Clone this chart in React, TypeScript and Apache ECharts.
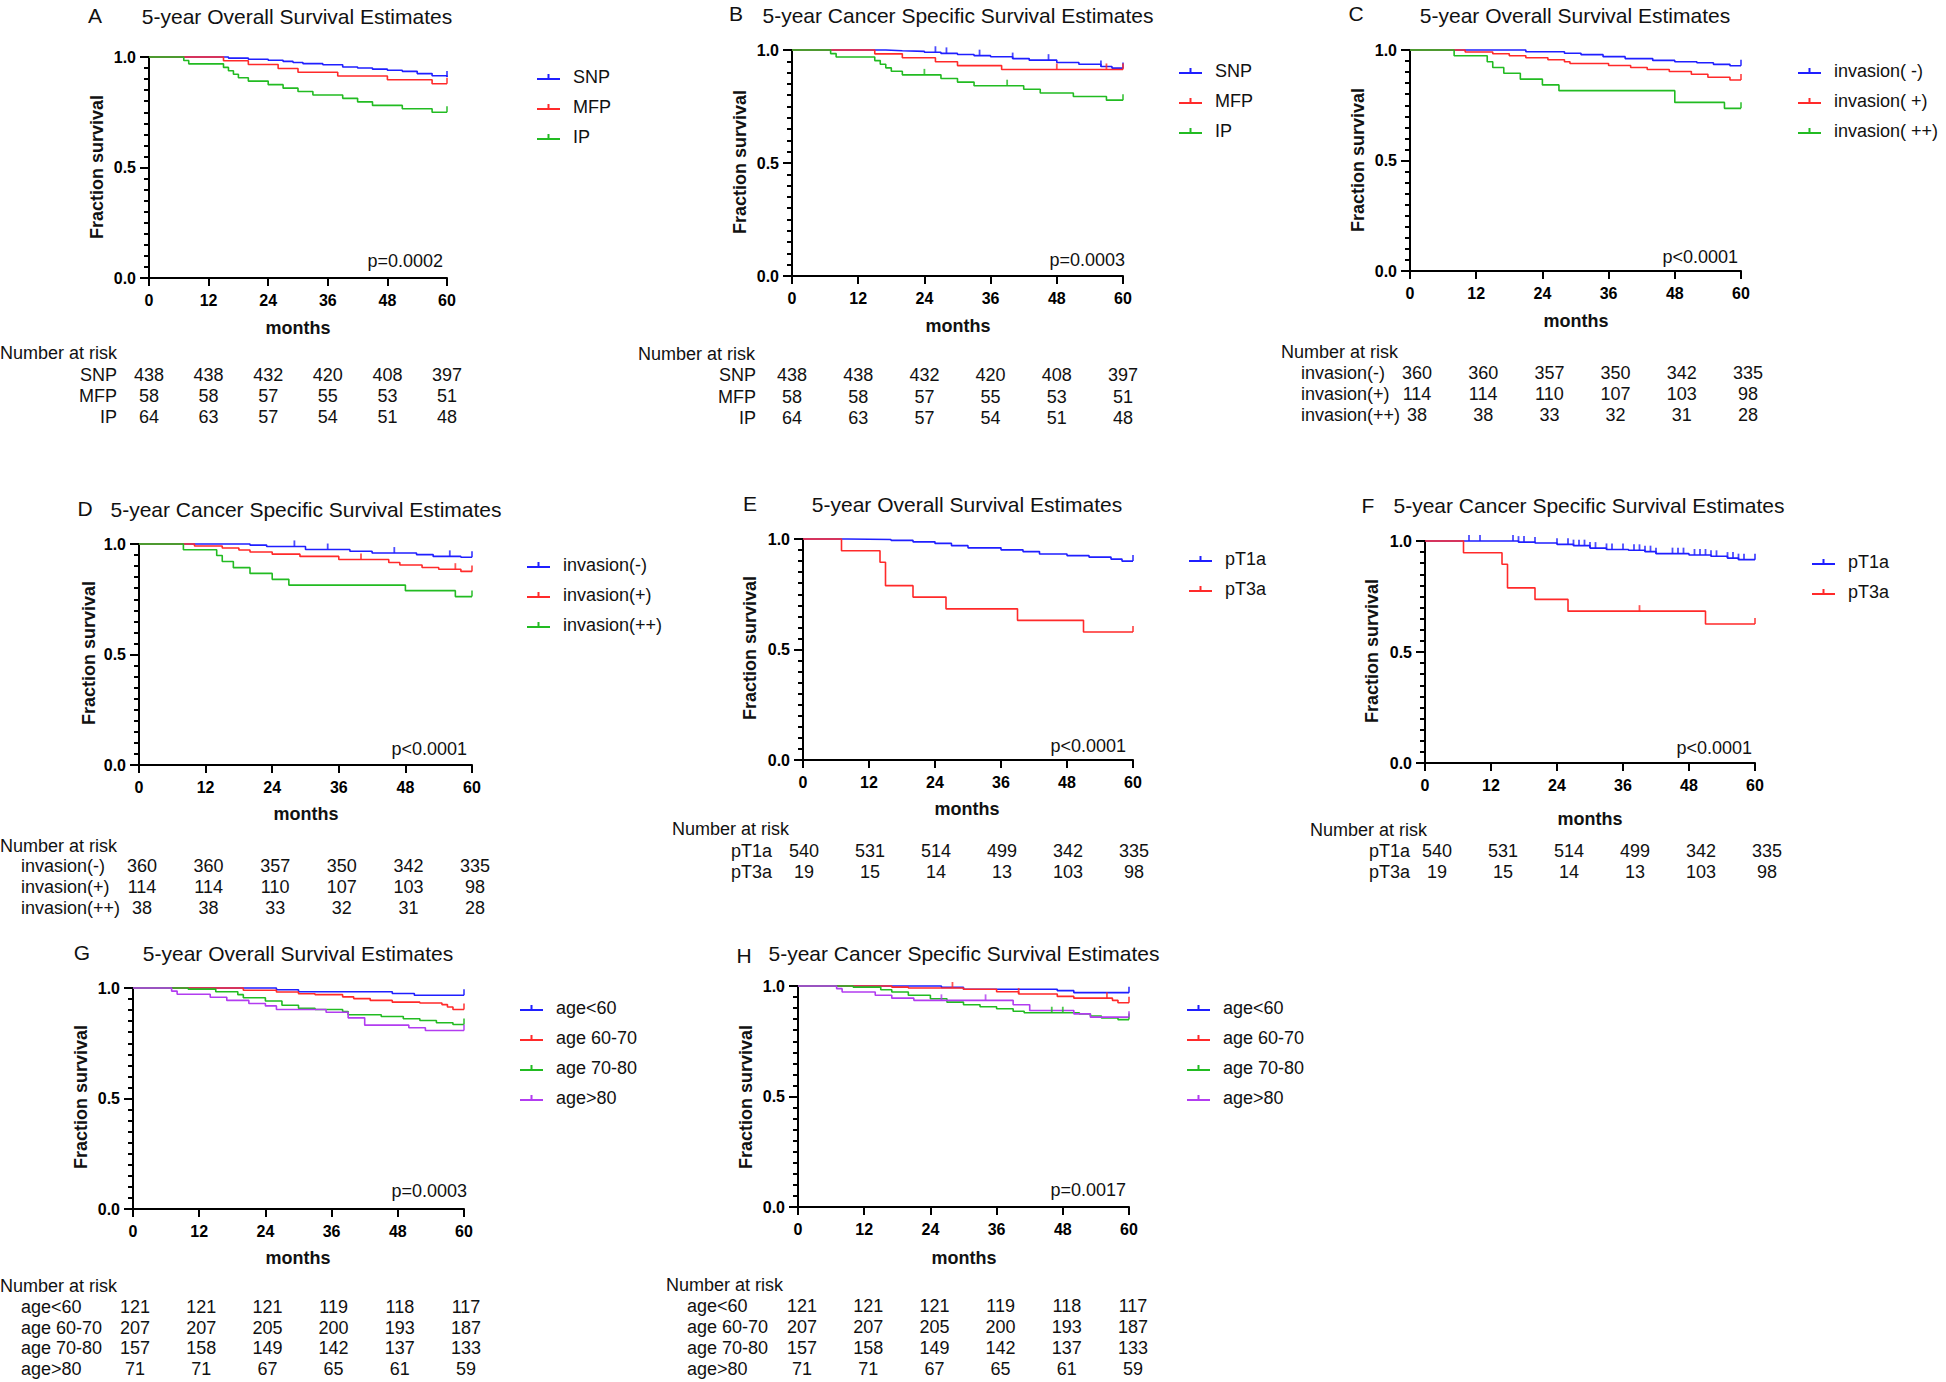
import React, { useEffect, useRef } from 'react';
import * as echarts from 'echarts';

const FONT = '"Liberation Sans", Arial, Helvetica, sans-serif';
const BLUE = '#1F1FFF';
const RED = '#FF2A2A';
const GREEN = '#22BB22';
const PURPLE = '#B23CF0';

// time points of the "number at risk" tables (months)
const riskMonths = [0, 12, 24, 36, 48, 60];

// ---------- Panel A : 5-year OS by SNP / MFP / IP ----------
const A_SNP = [[0, 1], [14, 1], [16, 0.995], [20, 0.99], [24, 0.985], [27, 0.98], [29, 0.975], [31, 0.97], [35, 0.965], [39, 0.955], [42, 0.95], [45, 0.945], [48, 0.94], [51, 0.935], [54, 0.925], [57, 0.915], [60, 0.91]];
const A_MFP = [[0, 1], [15, 0.983], [20, 0.966], [26, 0.948], [30, 0.931], [38, 0.914], [48, 0.897], [57, 0.879], [60, 0.879]];
const A_IP = [[0, 1], [7, 0.984], [8, 0.969], [15, 0.953], [16, 0.938], [17, 0.922], [18, 0.906], [20, 0.891], [24, 0.875], [27, 0.859], [30, 0.844], [33, 0.828], [39, 0.813], [42, 0.797], [45, 0.781], [51, 0.766], [57, 0.75], [60, 0.75]];
const A_SNP_cens = [60];
const A_MFP_cens = [60];
const A_IP_cens = [60];

// ---------- Panel B : 5-year CSS by SNP / MFP / IP ----------
const B_SNP = [[0, 1], [14, 1], [17, 0.997], [20, 0.994], [24, 0.99], [27, 0.985], [30, 0.98], [33, 0.975], [36, 0.97], [40, 0.962], [43, 0.955], [48, 0.945], [52, 0.937], [56, 0.927], [58, 0.92], [60, 0.918]];
const B_MFP = [[0, 1], [15, 0.983], [20, 0.966], [26, 0.948], [30, 0.931], [38, 0.914], [60, 0.914]];
const B_IP = [[0, 1], [7, 0.984], [8, 0.969], [15, 0.953], [16, 0.937], [17, 0.921], [18, 0.906], [20, 0.89], [27, 0.874], [30, 0.858], [33, 0.842], [42, 0.826], [45, 0.81], [51, 0.794], [57, 0.778], [60, 0.778]];
const B_SNP_cens = [26, 28, 34, 40, 46.5, 56, 60];
const B_MFP_cens = [48, 57, 60];
const B_IP_cens = [24, 39, 60];

// ---------- Panel C : 5-year OS by invasion ----------
const C_NEG = [[0, 1], [19, 1], [21, 0.992], [28, 0.985], [31, 0.979], [35, 0.97], [39, 0.961], [44, 0.953], [48, 0.947], [52, 0.942], [55, 0.935], [58, 0.929], [60, 0.929]];
const C_POS = [[0, 1], [10, 0.991], [15, 0.983], [18, 0.974], [21, 0.965], [25, 0.956], [28, 0.947], [29, 0.939], [36, 0.93], [40, 0.921], [43, 0.912], [47, 0.903], [51, 0.89], [54, 0.877], [58, 0.864], [60, 0.864]];
const C_PP = [[0, 1], [8, 0.974], [14, 0.947], [15, 0.921], [17, 0.895], [20, 0.868], [24, 0.842], [27, 0.816], [48, 0.763], [57, 0.736], [60, 0.736]];
const C_NEG_cens = [60];
const C_POS_cens = [60];
const C_PP_cens = [60];

// ---------- Panel D : 5-year CSS by invasion ----------
const D_NEG = [[0, 1], [17, 1], [20, 0.995], [23, 0.989], [30, 0.975], [38, 0.967], [42, 0.959], [50, 0.952], [53, 0.944], [58, 0.94], [60, 0.94]];
const D_POS = [[0, 1], [10, 0.991], [15, 0.982], [18, 0.973], [20, 0.964], [24, 0.954], [29, 0.944], [36, 0.93], [45, 0.916], [47, 0.905], [51, 0.894], [54, 0.886], [58, 0.876], [60, 0.876]];
const D_PP = [[0, 1], [8, 0.974], [14, 0.948], [15, 0.921], [17, 0.893], [20, 0.867], [24, 0.84], [27, 0.814], [48, 0.789], [57, 0.762], [60, 0.762]];
const D_NEG_cens = [28, 34, 46, 56, 60];
const D_POS_cens = [40, 57, 60];
const D_PP_cens = [60];

// ---------- Panel E : 5-year OS by pT stage ----------
const E_T1A = [[0, 1], [8, 0.998], [16, 0.994], [20, 0.987], [24, 0.98], [27, 0.97], [30, 0.96], [36, 0.951], [40, 0.943], [43, 0.932], [48, 0.925], [52, 0.918], [56, 0.909], [58, 0.9], [60, 0.9]];
const E_T3A = [[0, 1], [7, 0.947], [14, 0.895], [15, 0.789], [20, 0.737], [26, 0.684], [39, 0.632], [51, 0.579], [60, 0.579]];
const E_T1A_cens = [60];
const E_T3A_cens = [60];

// ---------- Panel F : 5-year CSS by pT stage ----------
const F_T1A = [[0, 1], [16, 1], [17, 0.995], [20, 0.991], [24, 0.985], [27, 0.979], [30, 0.968], [33, 0.962], [37, 0.958], [40, 0.952], [42, 0.943], [48, 0.937], [52, 0.931], [55, 0.923], [57, 0.916], [60, 0.915]];
const F_T3A = [[0, 1], [7, 0.947], [14, 0.895], [15, 0.789], [20, 0.737], [26, 0.684], [51, 0.626], [60, 0.626]];
const F_T1A_cens = [8, 10, 16, 17, 18, 20, 24, 26, 27, 28, 29, 30, 31, 33, 34, 36, 38, 39, 40, 41, 42, 45, 46, 47, 49, 50, 51, 52, 53, 55, 56, 57, 58, 60];
const F_T3A_cens = [39, 60];

// ---------- Panel G : 5-year OS by age ----------
const G_LT60 = [[0, 1], [26, 0.992], [30, 0.983], [47, 0.975], [51, 0.967], [60, 0.967]];
const G_6070 = [[0, 1], [17, 1], [20, 0.99], [26, 0.982], [30, 0.974], [33, 0.97], [38, 0.96], [40, 0.952], [43, 0.944], [47, 0.936], [52, 0.932], [56, 0.925], [57, 0.914], [58, 0.903], [60, 0.903]];
const G_7080 = [[0, 1], [10, 0.995], [15, 0.983], [19, 0.97], [20, 0.956], [24, 0.941], [27, 0.922], [30, 0.908], [33, 0.903], [38, 0.894], [39, 0.879], [45, 0.871], [49, 0.861], [52, 0.853], [55, 0.843], [58, 0.835], [60, 0.835]];
const G_GT80 = [[0, 1], [7, 0.986], [8, 0.972], [14, 0.958], [17, 0.944], [21, 0.93], [24, 0.919], [26, 0.903], [35, 0.89], [39, 0.865], [42, 0.832], [50, 0.82], [53, 0.808], [60, 0.808]];
const G_LT60_cens = [60];
const G_6070_cens = [60];
const G_7080_cens = [60];
const G_GT80_cens = [60];

// ---------- Panel H : 5-year CSS by age ----------
const H_LT60 = [[0, 1], [26, 0.994], [30, 0.985], [47, 0.979], [50, 0.97], [60, 0.97]];
const H_6070 = [[0, 1], [17, 0.995], [20, 0.991], [30, 0.985], [36, 0.974], [40, 0.964], [47, 0.953], [50, 0.945], [57, 0.935], [58, 0.924], [60, 0.924]];
const H_7080 = [[0, 1], [10, 0.995], [15, 0.983], [17, 0.973], [20, 0.958], [24, 0.942], [27, 0.927], [30, 0.915], [33, 0.906], [36, 0.897], [39, 0.886], [41, 0.879], [51, 0.873], [53, 0.864], [55, 0.855], [58, 0.848], [60, 0.848]];
const H_GT80 = [[0, 1], [7, 0.988], [8, 0.973], [14, 0.958], [17, 0.945], [21, 0.935], [39, 0.915], [42, 0.889], [50, 0.874], [53, 0.859], [60, 0.859]];
const H_LT60_cens = [60];
const H_6070_cens = [28, 40, 56, 60];
const H_7080_cens = [46, 48, 60];
const H_GT80_cens = [26, 34, 60];

// ---------- Number at risk tables ----------
const riskLabelsSite = ['SNP', 'MFP', 'IP'];
const riskSite = [[438, 438, 432, 420, 408, 397], [58, 58, 57, 55, 53, 51], [64, 63, 57, 54, 51, 48]];
const riskLabelsInv = ['invasion(-)', 'invasion(+)', 'invasion(++)'];
const riskInv = [[360, 360, 357, 350, 342, 335], [114, 114, 110, 107, 103, 98], [38, 38, 33, 32, 31, 28]];
const riskLabelsPT = ['pT1a', 'pT3a'];
const riskPT = [[540, 531, 514, 499, 342, 335], [19, 15, 14, 13, 103, 98]];
const riskLabelsAge = ['age<60', 'age 60-70', 'age 70-80', 'age>80'];
const riskAge = [[121, 121, 121, 119, 118, 117], [207, 207, 205, 200, 193, 187], [157, 158, 149, 142, 137, 133], [71, 71, 67, 65, 61, 59]];

const pValues = ['p=0.0002', 'p=0.0003', 'p<0.0001', 'p<0.0001', 'p<0.0001', 'p<0.0001', 'p=0.0003', 'p=0.0017'];
const OS = '5-year Overall Survival Estimates';
const CSS = '5-year Cancer Specific Survival Estimates';

type Curve = { name: string; color: string; pts: number[][]; cens: number[] };

const curvesByPanel: Curve[][] = [
  [{ name: 'SNP', color: BLUE, pts: A_SNP, cens: A_SNP_cens }, { name: 'MFP', color: RED, pts: A_MFP, cens: A_MFP_cens }, { name: 'IP', color: GREEN, pts: A_IP, cens: A_IP_cens }],
  [{ name: 'SNP', color: BLUE, pts: B_SNP, cens: B_SNP_cens }, { name: 'MFP', color: RED, pts: B_MFP, cens: B_MFP_cens }, { name: 'IP', color: GREEN, pts: B_IP, cens: B_IP_cens }],
  [{ name: 'invasion( -)', color: BLUE, pts: C_NEG, cens: C_NEG_cens }, { name: 'invasion( +)', color: RED, pts: C_POS, cens: C_POS_cens }, { name: 'invasion( ++)', color: GREEN, pts: C_PP, cens: C_PP_cens }],
  [{ name: 'invasion(-)', color: BLUE, pts: D_NEG, cens: D_NEG_cens }, { name: 'invasion(+)', color: RED, pts: D_POS, cens: D_POS_cens }, { name: 'invasion(++)', color: GREEN, pts: D_PP, cens: D_PP_cens }],
  [{ name: 'pT1a', color: BLUE, pts: E_T1A, cens: E_T1A_cens }, { name: 'pT3a', color: RED, pts: E_T3A, cens: E_T3A_cens }],
  [{ name: 'pT1a', color: BLUE, pts: F_T1A, cens: F_T1A_cens }, { name: 'pT3a', color: RED, pts: F_T3A, cens: F_T3A_cens }],
  [{ name: 'age<60', color: BLUE, pts: G_LT60, cens: G_LT60_cens }, { name: 'age 60-70', color: RED, pts: G_6070, cens: G_6070_cens }, { name: 'age 70-80', color: GREEN, pts: G_7080, cens: G_7080_cens }, { name: 'age>80', color: PURPLE, pts: G_GT80, cens: G_GT80_cens }],
  [{ name: 'age<60', color: BLUE, pts: H_LT60, cens: H_LT60_cens }, { name: 'age 60-70', color: RED, pts: H_6070, cens: H_6070_cens }, { name: 'age 70-80', color: GREEN, pts: H_7080, cens: H_7080_cens }, { name: 'age>80', color: PURPLE, pts: H_GT80, cens: H_GT80_cens }],
];

const riskByPanel = [
  { labels: riskLabelsSite, values: riskSite },
  { labels: riskLabelsSite, values: riskSite },
  { labels: riskLabelsInv, values: riskInv },
  { labels: riskLabelsInv, values: riskInv },
  { labels: riskLabelsPT, values: riskPT },
  { labels: riskLabelsPT, values: riskPT },
  { labels: riskLabelsAge, values: riskAge },
  { labels: riskLabelsAge, values: riskAge },
];

// ---------- layout (pixel positions) ----------
const layout = [
  { id: 'A', title: OS, grid: [149, 57, 298, 221], letter: [95, 15], titlePos: [297, 16], legend: [532, 72], pPos: [443, 261], months: [298, 328], yname: [97, 167], header: [0, 353], labelAlign: 'right', labelX: 117, rowY: [375, 396, 417], valOffset: 0 },
  { id: 'B', title: CSS, grid: [792, 50, 331, 226], letter: [736, 13], titlePos: [958, 15], legend: [1174, 66], pPos: [1125, 260], months: [958, 326], yname: [740, 162], header: [638, 354], labelAlign: 'right', labelX: 756, rowY: [375, 397, 418], valOffset: 0 },
  { id: 'C', title: OS, grid: [1410, 50, 331, 221], letter: [1356, 13], titlePos: [1575, 15], legend: [1793, 66], pPos: [1738, 257], months: [1576, 321], yname: [1358, 160], header: [1281, 352], labelAlign: 'left', labelX: 1301, rowY: [373, 394, 415], valOffset: 7 },
  { id: 'D', title: CSS, grid: [139, 544, 333, 221], letter: [85, 508], titlePos: [306, 509], legend: [522, 560], pPos: [467, 749], months: [306, 814], yname: [89, 653], header: [0, 846], labelAlign: 'left', labelX: 21, rowY: [866, 887, 908], valOffset: 3 },
  { id: 'E', title: OS, grid: [803, 539, 330, 221], letter: [750, 503], titlePos: [967, 504], legend: [1184, 554], pPos: [1126, 746], months: [967, 809], yname: [750, 648], header: [672, 829], labelAlign: 'right', labelX: 772, rowY: [851, 872], valOffset: 1 },
  { id: 'F', title: CSS, grid: [1425, 541, 330, 222], letter: [1368, 505], titlePos: [1589, 505], legend: [1807, 557], pPos: [1752, 748], months: [1590, 819], yname: [1372, 651], header: [1310, 830], labelAlign: 'right', labelX: 1410, rowY: [851, 872], valOffset: 12 },
  { id: 'G', title: OS, grid: [133, 988, 331, 221], letter: [82, 952], titlePos: [298, 953], legend: [515, 1003], pPos: [467, 1191], months: [298, 1258], yname: [81, 1097], header: [0, 1286], labelAlign: 'left', labelX: 21, rowY: [1307, 1328, 1348, 1369], valOffset: 2 },
  { id: 'H', title: CSS, grid: [798, 986, 331, 221], letter: [744, 955], titlePos: [964, 953], legend: [1182, 1003], pPos: [1126, 1190], months: [964, 1258], yname: [746, 1097], header: [666, 1285], labelAlign: 'left', labelX: 687, rowY: [1306, 1327, 1348, 1369], valOffset: 4 },
];

const LEGEND_ICON = 'path://M0,4 L23,4 L23,6 L0,6 Z M10.5,0 L12.5,0 L12.5,4 L10.5,4 Z';

function survAt(pts: number[][], t: number) {
  let s = pts[0][1];
  for (const p of pts) if (p[0] <= t) s = p[1];
  return s;
}

function txt(x: number, y: number, s: string, size: number, weight: string, align: string, extra: any = {}) {
  return {
    type: 'text',
    x,
    y,
    silent: true,
    ...extra,
    style: {
      text: s,
      fill: '#111',
      fontSize: size,
      fontWeight: weight,
      fontFamily: FONT,
      textAlign: align,
      textVerticalAlign: 'middle',
      align,
      verticalAlign: 'middle',
    },
  };
}

function buildOption() {
  const grid: any[] = [];
  const xAxis: any[] = [];
  const yAxis: any[] = [];
  const series: any[] = [];
  const legend: any[] = [];

  layout.forEach((L, i) => {
    grid.push({ left: L.grid[0], top: L.grid[1], width: L.grid[2], height: L.grid[3], containLabel: false });
    xAxis.push({
      type: 'value', gridIndex: i, min: 0, max: 60, interval: 12,
      axisLine: { show: true, onZero: false, lineStyle: { color: '#000', width: 2 } },
      axisTick: { show: true, length: 8, lineStyle: { color: '#000', width: 2 } },
      axisLabel: { fontSize: 16, fontWeight: 'bold', color: '#000', fontFamily: FONT, margin: 14 },
      splitLine: { show: false },
    });
    yAxis.push({
      type: 'value', gridIndex: i, min: 0, max: 1, interval: 0.5,
      axisLine: { show: true, onZero: false, lineStyle: { color: '#000', width: 2 } },
      axisTick: { show: true, length: 9, lineStyle: { color: '#000', width: 2 } },
      minorTick: { show: true, splitNumber: 10, length: 5, lineStyle: { color: '#000', width: 2 } },
      axisLabel: { fontSize: 16, fontWeight: 'bold', color: '#000', fontFamily: FONT, margin: 13, formatter: (v: number) => v.toFixed(1) },
      splitLine: { show: false },
      minorSplitLine: { show: false },
    });
    const curves = curvesByPanel[i];
    curves.forEach((c) => {
      series.push({
        type: 'line', name: c.name, xAxisIndex: i, yAxisIndex: i, data: c.pts, step: 'end',
        symbol: 'none', color: c.color, lineStyle: { width: 1.6, color: c.color }, itemStyle: { color: c.color },
        clip: false, silent: true,
      });
      series.push({
        type: 'scatter', name: `${L.id} ${c.name} censored`, xAxisIndex: i, yAxisIndex: i,
        data: c.cens.map((t) => [t, survAt(c.pts, t)]),
        symbol: 'rect', symbolSize: [1.8, 6], symbolOffset: [0, -3],
        itemStyle: { color: c.color }, clip: false, silent: true, z: 3,
      });
    });
    legend.push({
      orient: 'vertical', left: L.legend[0], top: L.legend[1] - 9,
      itemWidth: 23, itemHeight: 6, itemGap: 12, icon: LEGEND_ICON, selectedMode: false,
      textStyle: { fontSize: 18, lineHeight: 18, color: '#111', fontFamily: FONT, padding: [0, 0, 0, 8] },
      data: curves.map((c) => c.name),
    });
  });

  return { animation: false, backgroundColor: '#fff', grid, xAxis, yAxis, series, legend };
}

function buildGraphic(chart: any) {
  const els: any[] = [];
  layout.forEach((L, i) => {
    els.push(txt(L.letter[0], L.letter[1], L.id, 21, 'normal', 'center'));
    els.push(txt(L.titlePos[0], L.titlePos[1], L.title, 21, 'normal', 'center'));
    els.push(txt(L.pPos[0], L.pPos[1], pValues[i], 18, 'normal', 'right'));
    els.push(txt(L.months[0], L.months[1], 'months', 18, 'bold', 'center'));
    els.push(txt(L.yname[0], L.yname[1], 'Fraction survival', 18, 'bold', 'center', { rotation: Math.PI / 2 }));
    els.push(txt(L.header[0], L.header[1], 'Number at risk', 18, 'normal', 'left'));
    const R = riskByPanel[i];
    R.labels.forEach((lab, r) => {
      els.push(txt(L.labelX, L.rowY[r], lab, 18, 'normal', L.labelAlign));
      R.values[r].forEach((v, k) => {
        const px = chart.convertToPixel({ gridIndex: i }, [riskMonths[k], 0]);
        els.push(txt(px[0] + L.valOffset, L.rowY[r], String(v), 18, 'normal', 'center'));
      });
    });
  });
  return els;
}

export default function App() {
  const ref = useRef<HTMLDivElement>(null);
  useEffect(() => {
    if (!ref.current) return;
    const chart = echarts.init(ref.current, undefined, { renderer: 'svg' });
    chart.setOption(buildOption() as any);
    chart.setOption({ graphic: buildGraphic(chart) } as any);
    return () => chart.dispose();
  }, []);
  return (
    <div
      ref={ref}
      style={{ position: 'absolute', left: 0, top: 0, width: 1946, height: 1382, background: '#fff' }}
    />
  );
}
